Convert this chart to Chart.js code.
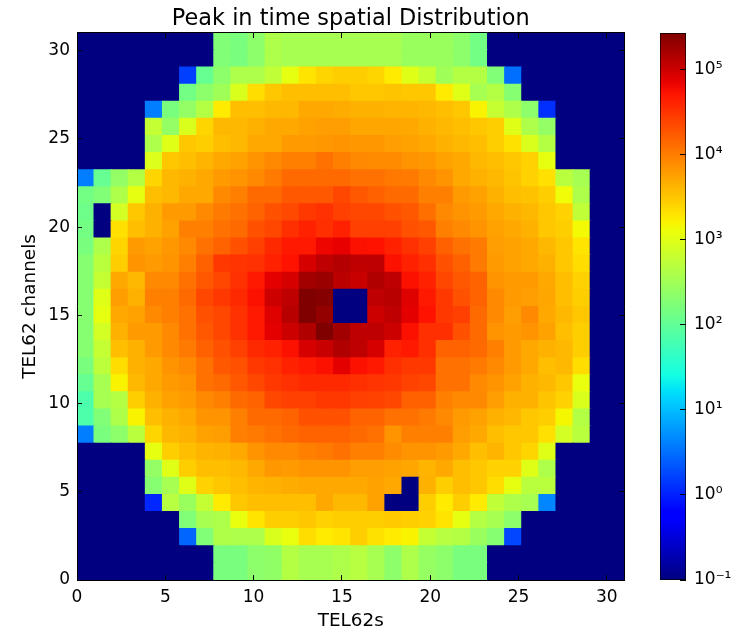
<!DOCTYPE html>
<html>
<head>
<meta charset="utf-8">
<title>Peak in time spatial Distribution</title>
<script src="https://cdn.jsdelivr.net/npm/chart.js@4"></script>
<style>
  html, body { margin: 0; padding: 0; background: #fff; }
  #wrap { position: relative; width: 739px; height: 636px; overflow: hidden; }
  canvas { position: absolute; top: 0; }
  #myChart { left: 0; }
  #colorBar { left: 640px; }
</style>
</head>
<body>
<div id="wrap">
  <canvas id="myChart" width="739" height="636"></canvas>
  <canvas id="colorBar" width="99" height="636"></canvas>
</div>
<script>
// 32 x 32 bins spread over 0..31, one row per line from the top down
// values are log10(counts), -1 means empty (10^-1 on the colour bar)
var binLabels = [0,1,2,3,4,5,6,7,8,9,10,11,12,13,14,15,16,17,18,19,20,21,22,23,24,25,26,27,28,29,30,31];
var logCounts = [
  [-1,-1,-1,-1,-1,-1,-1,-1,2.25,2.2,2.35,2.6,2.55,2.55,2.55,2.55,2.55,2.55,2.55,2.45,2.45,2.45,2.35,2.15,-1,-1,-1,-1,-1,-1,-1,-1],
  [-1,-1,-1,-1,-1,-1,-1,-1,2.25,2.2,2.35,2.6,2.55,2.55,2.55,2.55,2.55,2.55,2.55,2.45,2.45,2.45,2.35,2.15,-1,-1,-1,-1,-1,-1,-1,-1],
  [-1,-1,-1,-1,-1,-1,0.2,2.05,2.35,2.6,2.6,2.75,3.05,3.3,3.4,3.45,3.45,3.4,3.25,3.0,2.8,2.5,2.65,2.65,2.25,0.5,-1,-1,-1,-1,-1,-1],
  [-1,-1,-1,-1,-1,-1,2.15,2.35,2.5,2.95,3.35,3.5,3.55,3.55,3.55,3.55,3.5,3.5,3.52,3.5,3.5,3.25,3.0,2.55,2.65,2.3,-1,-1,-1,-1,-1,-1],
  [-1,-1,-1,-1,0.6,2.2,2.4,2.65,3.25,3.55,3.55,3.6,3.6,3.7,3.7,3.68,3.65,3.65,3.62,3.62,3.6,3.55,3.5,3.2,2.8,2.6,2.35,0.1,-1,-1,-1,-1],
  [-1,-1,-1,-1,2.78,2.4,2.95,3.4,3.6,3.6,3.65,3.7,3.7,3.75,3.78,3.78,3.72,3.72,3.72,3.7,3.65,3.6,3.55,3.5,3.45,3.0,2.6,2.4,-1,-1,-1,-1],
  [-1,-1,-1,-1,2.6,3.0,3.5,3.45,3.55,3.6,3.7,3.7,3.8,3.8,3.82,3.85,3.82,3.82,3.78,3.75,3.7,3.65,3.6,3.55,3.45,3.32,2.95,2.65,-1,-1,-1,-1],
  [-1,-1,-1,-1,2.97,3.5,3.55,3.63,3.7,3.75,3.85,3.92,3.98,3.98,4.08,3.98,3.92,3.9,3.9,3.85,3.82,3.75,3.7,3.6,3.55,3.5,3.42,3.05,-1,-1,-1,-1],
  [0.6,2.05,2.4,2.65,3.4,3.6,3.65,3.7,3.8,3.85,3.92,4.02,4.13,4.13,4.13,4.13,4.08,4.08,4.03,4.02,3.92,3.85,3.7,3.65,3.6,3.52,3.42,3.33,2.7,2.55,-1,-1],
  [2.15,2.25,2.6,3.05,3.55,3.6,3.7,3.7,3.92,3.98,4.13,4.13,4.25,4.25,4.25,4.37,4.25,4.2,4.13,4.13,3.98,3.98,3.8,3.75,3.65,3.55,3.53,3.45,3.12,2.6,-1,-1],
  [2.1,-1,2.9,3.5,3.65,3.8,3.8,3.92,4.02,4.08,4.18,4.3,4.36,4.47,4.52,4.42,4.37,4.37,4.3,4.25,4.1,3.92,3.85,3.8,3.7,3.65,3.6,3.5,3.42,2.75,-1,-1],
  [2.15,-1,3.33,3.55,3.65,3.75,3.98,3.98,4.08,4.13,4.3,4.37,4.53,4.63,4.53,4.63,4.42,4.42,4.42,4.3,4.25,3.98,3.92,3.85,3.75,3.7,3.65,3.5,3.45,3.15,-1,-1],
  [2.2,2.6,3.4,3.8,3.75,3.82,3.92,4.08,4.18,4.3,4.42,4.57,4.68,4.68,4.82,4.85,4.74,4.72,4.63,4.52,4.42,4.2,4.08,4.02,3.78,3.75,3.7,3.6,3.5,3.3,-1,-1],
  [2.3,2.7,3.45,3.85,3.8,3.85,3.98,4.2,4.47,4.5,4.52,4.63,4.72,4.95,5.08,5.14,5.08,5.08,4.74,4.63,4.53,4.3,4.2,4.02,3.8,3.75,3.7,3.65,3.5,3.35,-1,-1],
  [2.3,2.78,3.7,3.6,3.92,3.92,4.08,4.25,4.37,4.52,4.68,4.87,4.95,5.24,5.28,5.1,5.03,5.16,5.08,4.74,4.63,4.37,4.25,4.18,3.85,3.8,3.8,3.7,3.55,3.42,-1,-1],
  [2.3,3.0,3.78,3.65,3.98,3.98,4.13,4.37,4.47,4.57,4.74,5.0,5.08,5.43,5.4,-1,-1,5.08,5.12,4.9,4.68,4.47,4.3,4.18,3.92,3.8,3.78,3.72,3.55,3.45,-1,-1],
  [2.3,3.05,3.7,3.75,3.92,3.98,4.08,4.3,4.37,4.52,4.68,4.9,5.12,5.43,5.32,-1,-1,5.0,5.08,4.87,4.72,4.47,4.42,4.13,3.92,3.78,3.92,3.7,3.6,3.5,-1,-1],
  [2.3,2.9,3.65,3.8,3.8,3.92,4.08,4.25,4.37,4.52,4.68,4.87,5.0,5.16,5.43,5.24,5.08,5.08,5.0,4.74,4.53,4.53,4.3,4.13,3.85,3.8,3.85,3.75,3.55,3.45,-1,-1],
  [2.3,2.78,3.55,3.65,3.8,3.92,4.02,4.2,4.3,4.42,4.57,4.63,4.74,4.95,5.03,5.16,5.08,4.95,4.63,4.68,4.53,4.18,4.18,4.13,3.98,3.8,3.7,3.65,3.6,3.45,-1,-1],
  [2.2,2.72,3.35,3.65,3.7,3.85,3.92,4.08,4.25,4.3,4.47,4.52,4.63,4.68,4.74,4.87,4.74,4.68,4.53,4.47,4.47,4.08,4.08,4.02,3.92,3.8,3.7,3.55,3.6,3.35,-1,-1],
  [2.05,2.55,3.2,3.6,3.7,3.8,3.85,4.08,4.13,4.25,4.37,4.47,4.52,4.57,4.57,4.57,4.53,4.5,4.47,4.4,4.37,4.08,4.08,3.92,3.85,3.75,3.65,3.6,3.5,3.08,-1,-1],
  [1.85,2.55,2.65,3.45,3.65,3.75,3.8,3.92,3.98,4.13,4.18,4.37,4.42,4.42,4.47,4.47,4.42,4.4,4.37,4.2,4.2,3.98,3.92,3.92,3.78,3.65,3.65,3.52,3.42,2.95,-1,-1],
  [1.85,2.25,2.6,3.2,3.55,3.65,3.7,3.85,3.85,3.98,4.13,4.13,4.18,4.3,4.3,4.3,4.18,4.18,4.08,4.08,4.02,3.92,3.8,3.75,3.65,3.6,3.5,3.45,3.17,2.65,-1,-1],
  [0.6,2.2,2.35,2.7,3.4,3.6,3.65,3.75,3.78,3.98,4.02,4.08,4.13,4.18,4.18,4.18,4.13,4.08,3.85,3.98,3.98,3.98,3.78,3.7,3.55,3.5,3.5,3.33,2.9,2.7,-1,-1],
  [-1,-1,-1,-1,3.05,3.45,3.55,3.63,3.65,3.7,3.85,3.92,3.92,3.98,4.02,4.08,3.98,3.98,3.9,3.85,3.85,3.8,3.7,3.55,3.63,3.5,3.4,3.0,-1,-1,-1,-1],
  [-1,-1,-1,-1,2.4,3.0,3.45,3.55,3.55,3.6,3.7,3.82,3.8,3.85,3.85,3.85,3.78,3.78,3.75,3.72,3.63,3.7,3.55,3.5,3.42,3.42,3.0,2.6,-1,-1,-1,-1],
  [-1,-1,-1,-1,2.3,2.55,3.0,3.42,3.5,3.55,3.62,3.65,3.68,3.7,3.7,3.7,3.7,3.75,3.7,-1,3.65,3.45,3.55,3.5,3.35,3.05,2.7,2.7,-1,-1,-1,-1],
  [-1,-1,-1,-1,0.05,2.68,2.45,2.78,3.25,3.5,3.55,3.55,3.55,3.55,3.7,3.6,3.6,3.75,-1,-1,3.45,3.25,3.45,3.25,2.75,2.6,2.55,0.65,-1,-1,-1,-1],
  [-1,-1,-1,-1,-1,-1,2.25,2.55,2.6,3.08,3.3,3.45,3.45,3.5,3.42,3.45,3.45,3.45,3.48,3.45,3.42,3.3,3.05,2.65,2.55,2.35,-1,-1,-1,-1,-1,-1],
  [-1,-1,-1,-1,-1,-1,0.45,2.25,2.62,2.6,2.6,2.95,3.08,3.35,3.25,3.3,3.45,3.32,3.25,3.2,2.78,2.68,2.65,2.45,2.3,0.25,-1,-1,-1,-1,-1,-1],
  [-1,-1,-1,-1,-1,-1,-1,-1,2.2,2.2,2.35,2.38,2.65,2.55,2.55,2.6,2.68,2.55,2.35,2.6,2.42,2.35,2.2,2.2,-1,-1,-1,-1,-1,-1,-1,-1],
  [-1,-1,-1,-1,-1,-1,-1,-1,2.2,2.2,2.35,2.38,2.65,2.55,2.55,2.6,2.68,2.55,2.35,2.6,2.42,2.35,2.2,2.2,-1,-1,-1,-1,-1,-1,-1,-1]
];
var axisTicks = [0, 5, 10, 15, 20, 25, 30];
var colorTickValues = [0.1, 1, 10, 100, 1000, 10000, 100000];
var colorTickLabels = ['10⁻¹', '10⁰', '10¹', '10²', '10³', '10⁴', '10⁵'];
var colorMin = 0.1;
var colorMax = 270000;

// matplotlib jet
var jetRed = [[0, 0], [0.35, 0], [0.66, 1], [0.89, 1], [1, 0.5]];
var jetGreen = [[0, 0], [0.125, 0], [0.375, 1], [0.64, 1], [0.91, 0], [1, 0]];
var jetBlue = [[0, 0.5], [0.11, 1], [0.34, 1], [0.65, 0], [1, 0]];

function channel(stops, t) {
    for (var i = 1; i < stops.length; i++) {
        if (t <= stops[i][0]) {
            var a = stops[i - 1], b = stops[i];
            return a[1] + (b[1] - a[1]) * (t - a[0]) / (b[0] - a[0]);
        }
    }
    return stops[stops.length - 1][1];
}

function jet(t) {
    t = Math.max(0, Math.min(1, t));
    return 'rgb(' + Math.round(channel(jetRed, t) * 255) + ',' +
        Math.round(channel(jetGreen, t) * 255) + ',' +
        Math.round(channel(jetBlue, t) * 255) + ')';
}

var logSpan = Math.log10(colorMax) + 1;
var binHeight = 31 / 32;
var font = 'DejaVu Sans';

// stacked bars fill from the bottom, so the top-down rows are flipped
var datasets = logCounts.slice().reverse().map(function (row) {
    return {
        data: row.map(function () { return binHeight; }),
        backgroundColor: row.map(function (v) { return jet((v + 1) / logSpan); }),
        borderWidth: 0,
        inflateAmount: 0.6, // no white seams between cells
        barPercentage: 1,
        categoryPercentage: 1
    };
});

function setTicks(scale) {
    scale.ticks = axisTicks.map(function (v) { return { value: v }; });
}

function sideAxis(position, size) {
    var horizontal = position === 'top' || position === 'bottom';
    return {
        type: 'linear',
        position: position,
        offset: false,
        min: 0,
        max: 31,
        afterBuildTicks: setTicks,
        afterFit: function (scale) {
            if (horizontal) scale.height = size; else scale.width = size;
        },
        ticks: { display: false },
        border: { display: true, color: '#000', width: 1, z: 2 },
        grid: { offset: false, drawOnChartArea: false, tickLength: -5, tickColor: '#000', z: 2 }
    };
}

new Chart(document.getElementById('myChart'), {
    type: 'bar',
    data: { labels: binLabels, datasets: datasets },
    options: {
        responsive: false,
        animation: false,
        layout: { padding: { left: 0, right: 114.5, top: 0, bottom: 0 } },
        plugins: {
            legend: { display: false },
            tooltip: { enabled: false },
            title: {
                display: true,
                text: 'Peak in time spatial Distribution',
                fullSize: false,
                color: '#000',
                font: { family: font, size: 22.4, weight: 'normal' },
                padding: { top: 6, bottom: 0.1 }
            }
        },
        scales: {
            x: { type: 'category', display: false, stacked: true },
            y: {
                type: 'linear',
                stacked: true,
                min: 0,
                max: 31,
                afterBuildTicks: setTicks,
                afterFit: function (scale) { scale.width = 77; },
                title: {
                    display: true,
                    text: 'TEL62 channels',
                    color: '#000',
                    font: { family: font, size: 18.4 },
                    padding: { top: 19 }
                },
                ticks: { color: '#000', font: { family: font, size: 17 }, padding: 12, autoSkip: false },
                border: { display: true, color: '#000', width: 1, z: 2 },
                grid: { drawOnChartArea: false, tickLength: -5, tickColor: '#000', z: 2 }
            },
            xTicks: {
                type: 'linear',
                position: 'bottom',
                offset: false,
                min: 0,
                max: 31,
                afterBuildTicks: setTicks,
                afterFit: function (scale) { scale.height = 56; },
                title: {
                    display: true,
                    text: 'TEL62s',
                    color: '#000',
                    font: { family: font, size: 18.4 },
                    padding: { top: 2 }
                },
                ticks: { color: '#000', font: { family: font, size: 17 }, padding: 12, maxRotation: 0, autoSkip: false },
                border: { display: true, color: '#000', width: 1, z: 2 },
                grid: { offset: false, drawOnChartArea: false, tickLength: -5, tickColor: '#000', z: 2 }
            },
            xTop: sideAxis('top', 0),
            yRight: sideAxis('right', 0)
        }
    }
});

// gradient for the colour bar, needs the chart area so it waits for layout
function barGradient(context) {
    var chart = context.chart;
    if (!chart.chartArea) return '#000080';
    var area = chart.chartArea;
    var g = chart.ctx.createLinearGradient(0, area.bottom, 0, area.top);
    for (var i = 0; i <= 64; i++) {
        g.addColorStop(i / 64, jet(i / 64));
    }
    return g;
}

new Chart(document.getElementById('colorBar'), {
    type: 'bar',
    data: {
        labels: ['counts'],
        datasets: [{
            data: [[colorMin, colorMax]],
            backgroundColor: barGradient,
            borderColor: '#000',
            borderWidth: 1,
            borderSkipped: false,
            barPercentage: 1,
            categoryPercentage: 1
        }]
    },
    options: {
        responsive: false,
        animation: false,
        layout: { padding: { left: 20, right: 0, top: 33, bottom: 56 } },
        plugins: { legend: { display: false }, tooltip: { enabled: false } },
        scales: {
            x: { display: false },
            y: {
                type: 'logarithmic',
                position: 'right',
                min: colorMin,
                max: colorMax,
                afterBuildTicks: function (scale) {
                    scale.ticks = colorTickValues.map(function (v) { return { value: v }; });
                },
                afterFit: function (scale) { scale.width = 53; },
                ticks: {
                    color: '#000',
                    font: { family: font, size: 17 },
                    padding: 14,
                    autoSkip: false,
                    callback: function (value) {
                        return colorTickLabels[colorTickValues.indexOf(value)];
                    }
                },
                border: { display: false },
                grid: { drawOnChartArea: false, tickLength: -6, tickColor: '#000', z: 2 }
            }
        }
    }
});
</script>
</body>
</html>
